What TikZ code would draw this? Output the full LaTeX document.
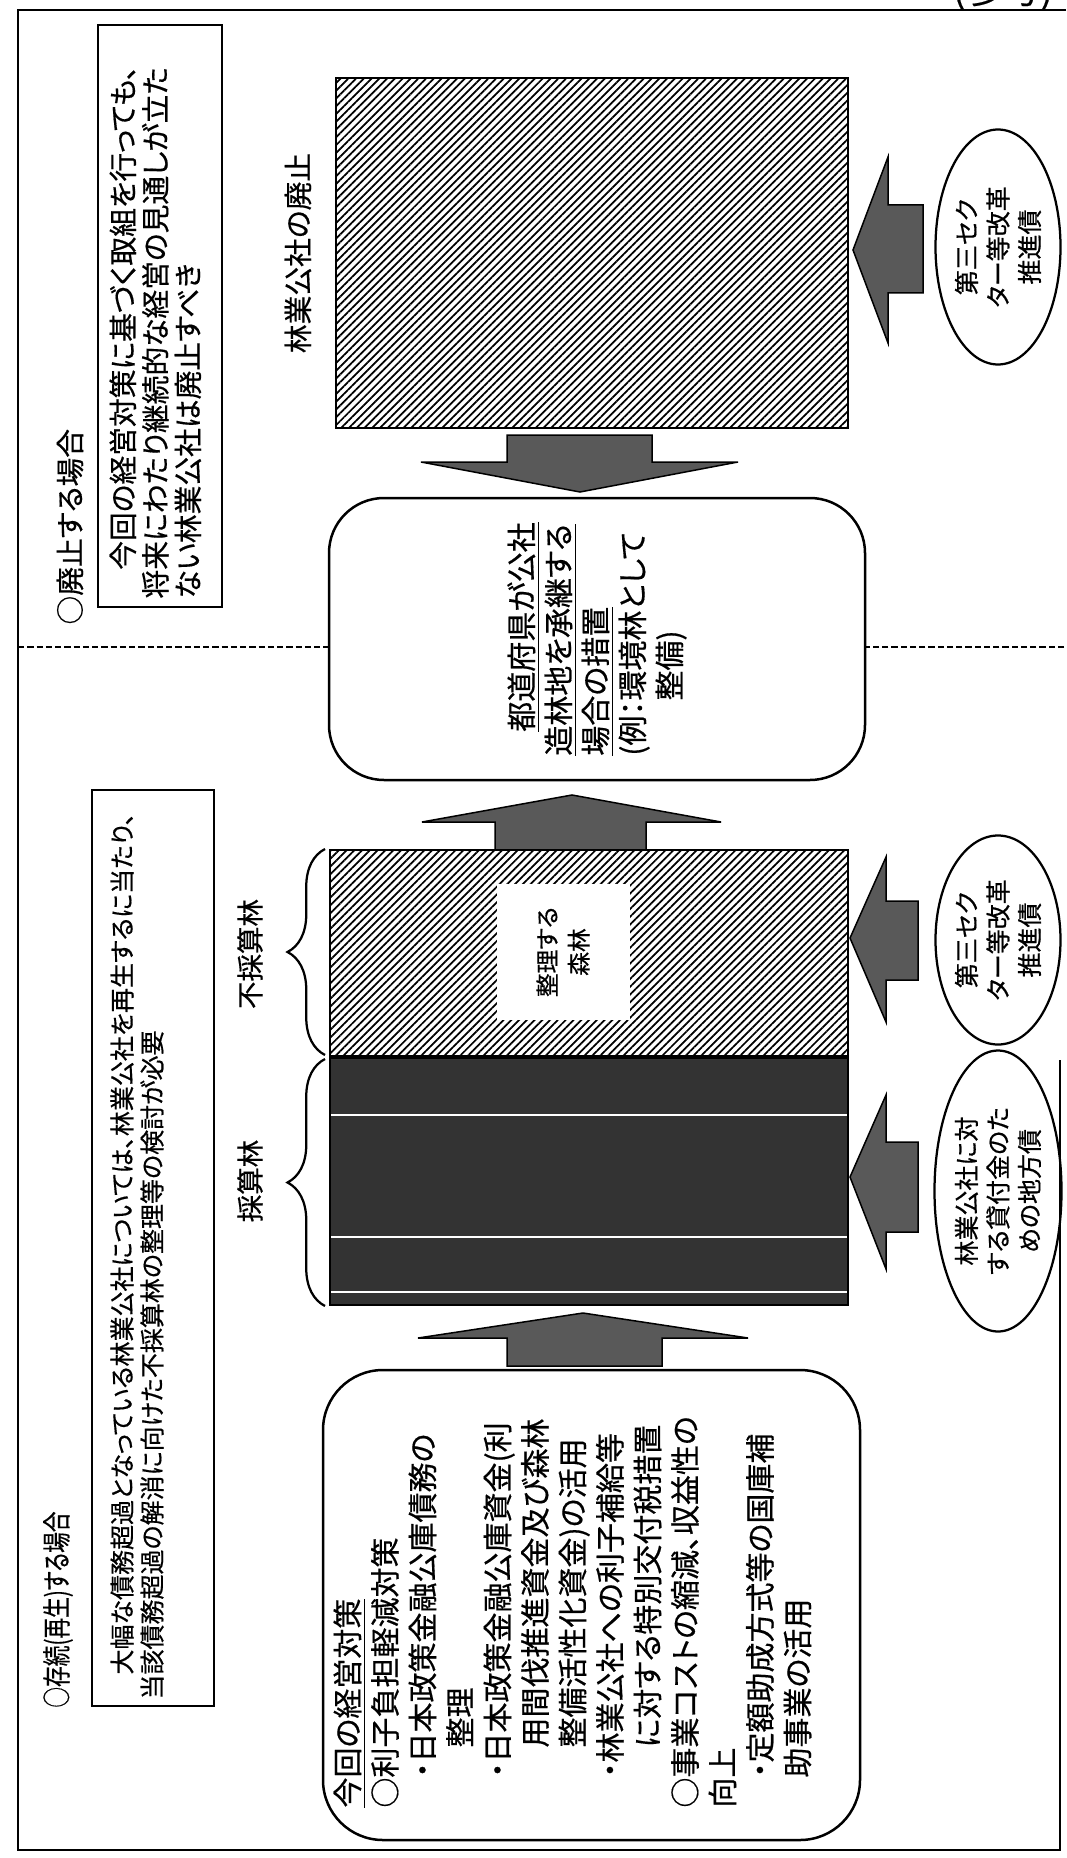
\documentclass[tikz,border=0pt]{standalone}
\usepackage{fontspec}
\newfontfamily\jpf[FakeBold=0.5,RawFeature=+palt]{Noto Sans CJK JP}
\usetikzlibrary{shapes.geometric,patterns.meta,decorations.pathreplacing,calc}
\def\pxu{0.4pt}
\begin{document}
\begin{tikzpicture}[x=0.4pt,y=-0.4pt,
  jpt/.style={font=\jpf\fontsize{11.5}{14.6}\selectfont},
  jpl/.style={font=\jpf\fontsize{11}{14.6}\selectfont},
  jpa/.style={font=\jpf\fontsize{11.5}{13}\selectfont},
  jpb/.style={font=\jpf\fontsize{10}{12}\selectfont},
  jpm/.style={font=\jpf\fontsize{12}{14.8}\selectfont},
  jpr/.style={font=\jpf\fontsize{12}{15}\selectfont},
  jps/.style={font=\jpf\fontsize{10}{12.6}\selectfont},
  jpw/.style={font=\jpf\fontsize{9.5}{12.6}\selectfont},
  rot/.style={rotate=90},
  frameln/.style={line width=1.1pt},
  bx/.style={draw, line width=1pt},
  hatchfill/.style={draw, line width=0.8pt, pattern={Lines[angle=45,distance=2.2pt,line width=0.7pt]}},
  darkfill/.style={draw, line width=0.8pt, fill=black!80},
  blk/.style={fill=black!65, draw=black, line width=0.6pt},
  bracedec/.style={decorate, decoration={brace, amplitude=15pt}, line width=0.9pt},
  dashline/.style={line width=0.9pt, dash pattern=on 2.5pt off 1.2pt},
]
\useasboundingbox (0,0) rectangle (1066,1858);
\fill[white] (0,0) rectangle (1066,1858);

% frame
\coordinate (ftl) at (18,10);
\coordinate (ftr) at (1066,10);
\coordinate (fbl) at (18,1850);
\coordinate (fbr) at (1060,1850);
\coordinate (frt) at (1060,1060);
\draw[frameln] (ftr) -- (ftl) -- (fbl) -- (fbr) -- (frt);

\begin{scope}
\clip (0,0) rectangle (1066,1858);
\node[font=\jpf\fontsize{15}{15}\selectfont, anchor=base, inner sep=0] (sanko) at (1003,3) {(参考)};
\end{scope}

% ===== upper section: abolition =====
\node[jpt, rot, anchor=west, inner sep=0] (hdA) at (70,625) {○廃止する場合};
\node[bx, rot, minimum width={582*\pxu}, minimum height={124*\pxu}, inner sep=0] (boxA) at (160,316) {};
\node[jpa, rot, anchor=north west, align=left, inner sep=0] (boxAt) at (109,599)
  {\hspace*{1em}今回の経営対策に基づく取組を行っても、\\将来にわたり継続的な経営の見通しが立た\\ない林業公社は廃止すべき};

\node[jpt, rot] (lblA) at (298,253) {林業公社の廃止};
\node[hatchfill, minimum width={512*\pxu}, minimum height={350*\pxu}, inner sep=0] (H1) at (592,253) {};

\node[draw, ellipse, rot, line width=0.9pt, minimum width={235*\pxu}, minimum height={125*\pxu}, inner sep=0, align=center, jps] (E1) at (998,247) {第三セク\\ター等改革\\推進債};
\draw[blk] (853,250) -- (888,157) -- (888,205) -- (923,205) -- (923,293) -- (888,293) -- (888,343) -- cycle;

% down arrow H1 -> R1
\draw[blk] (507,435) -- (652,435) -- (652,462) -- (738,462) -- (580,492) -- (421,462) -- (507,462) -- cycle;

% middle rounded box
\node[bx, rot, rounded corners=22pt, minimum width={282*\pxu}, minimum height={536*\pxu}, align=left, jpm] (R1) at (597,639)
  {\hspace*{0.8em}\underline{都道府県が公社}\\\underline{造林地を承継する}\\\underline{場合の措置}\\(例：環境林として\\\hphantom{(例：}整備)};

% dashed divider
\coordinate (dL) at (18,647);
\coordinate (dR) at (1064,647);
\draw[dashline] (dL) -- (dL -| R1.north);
\draw[dashline] (dR) -- (dR -| R1.south);

% up arrow H2 -> R1
\draw[blk] (572,795) -- (721,822) -- (646,822) -- (646,850) -- (495,850) -- (495,822) -- (422,822) -- cycle;

% ===== lower section: continuation =====
\node[jpt, rot, xscale=0.72, anchor=west, inner sep=0] (hdB) at (58,1708) {○存続(再生)する場合};
\node[bx, rot, minimum width={916*\pxu}, minimum height={122*\pxu}, inner sep=0] (boxB) at (153,1248) {};
\node[jpb, rot, anchor=north west, align=left, inner sep=0] (boxBt) at (110,1700)
  {\hspace*{1em}大幅な債務超過となっている林業公社については、林業公社を再生するに当たり、\\当該債務超過の解消に向けた不採算林の整理等の検討が必要};

\node[hatchfill, minimum width={518*\pxu}, minimum height={206*\pxu}, inner sep=0] (H2) at (589,953) {};
\node[darkfill, minimum width={518*\pxu}, minimum height={247*\pxu}, inner sep=0] (D) at (589,1181.5) {};
\draw[white, line width=0.5pt] (331,1115) -- (847,1115);
\draw[white, line width=0.5pt] (331,1237) -- (847,1237);
\draw[white, line width=0.5pt] (331,1292) -- (847,1292);

\node[fill=white, rot, minimum width={136*\pxu}, minimum height={133*\pxu}, inner sep=0, align=center, jpw] (W) at (563,952) {整理する\\森林};

\draw[bracedec] ($(H2.south west)+(-4,-2)$) -- ($(H2.north west)+(-4,0)$);
\draw[bracedec] ($(D.south west)+(-4,0)$) -- ($(D.north west)+(-4,2)$);
\node[jpl, rot] (lblF) at (250,954) {不採算林};
\node[jpl, rot] (lblS) at (250,1181) {採算林};

\node[draw, ellipse, rot, line width=0.9pt, minimum width={209*\pxu}, minimum height={125*\pxu}, inner sep=0, align=center, jps] (E2) at (998,940) {第三セク\\ター等改革\\推進債};
\draw[blk] (850,938) -- (886,857) -- (886,901) -- (918,901) -- (918,980) -- (886,980) -- (886,1022) -- cycle;

\node[draw, ellipse, rot, line width=0.9pt, minimum width={281*\pxu}, minimum height={127*\pxu}, inner sep=0, align=center, jps] (E3) at (998,1191) {林業公社に対\\する貸付金のた\\めの地方債};
\draw[blk] (850,1177) -- (886,1095) -- (886,1142) -- (918,1142) -- (918,1232) -- (886,1232) -- (886,1269) -- cycle;

% up arrow R2 -> D
\draw[blk] (583,1313) -- (748,1338) -- (662,1338) -- (662,1366) -- (507,1366) -- (507,1338) -- (418,1338) -- cycle;

% bottom rounded box
\node[bx, rot, rounded corners=24pt, minimum width={470*\pxu}, minimum height={537*\pxu}, inner sep=0] (R2) at (591.5,1605) {};
\node[jpr, rot, anchor=north west, align=left, inner sep=0] (R2t) at (333,1808)
  {\underline{今回の経営対策}\\
   ○利子負担軽減対策\\
   \hspace*{1em}・日本政策金融公庫債務の\\
   \hspace*{2em}整理\\
   \hspace*{1em}・日本政策金融公庫資金(利\\
   \hspace*{2em}用間伐推進資金及び森林\\
   \hspace*{2em}整備活性化資金)の活用\\
   \hspace*{1em}・林業公社への利子補給等\\
   \hspace*{2em}に対する特別交付税措置\\
   ○事業コストの縮減、収益性の\\
   向上\\
   \hspace*{1em}・定額助成方式等の国庫補\\
   \hspace*{1em}助事業の活用};
\end{tikzpicture}
\end{document}
